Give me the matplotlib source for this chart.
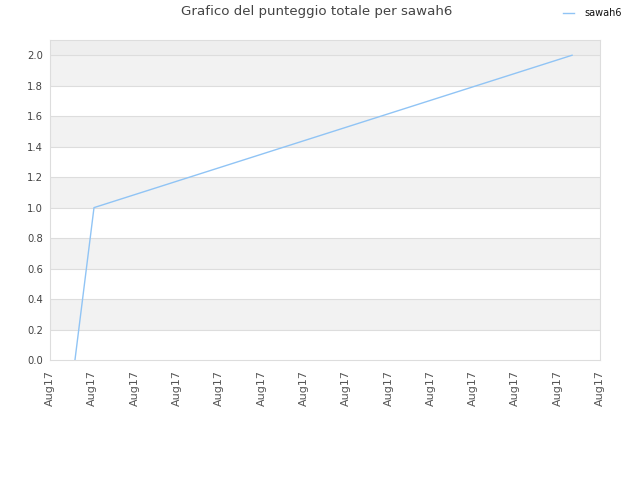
import matplotlib
matplotlib.use("Agg")
import matplotlib.pyplot as plt

x_vals = [0.59, 1.04, 12.34]
y_vals = [0.0, 1.0, 2.0]
tick_labels = ["Aug17"] * 14
series_name = "sawah6"

fig = plt.figure(figsize=(6.4, 4.8), dpi=100)
ax = fig.add_axes([50/640, 1-360/480, 550/640, 320/480])

ax.set_xlim(0, 13)
ax.set_ylim(0, 2.1)

# bands
edges = [0.0, 0.2, 0.4, 0.6, 0.8, 1.0, 1.2, 1.4, 1.6, 1.8, 2.0, 2.1]
for i in range(11):
    lo, hi = edges[i], edges[i + 1]
    if i == 10:
        c = "#eeeeee"
    elif i % 2 == 1:
        c = "#f2f2f2"
    else:
        c = "#ffffff"
    ax.axhspan(lo, hi, facecolor=c, zorder=0, lw=0)
for v in edges[1:-1]:
    ax.axhline(v, color="#dddddd", lw=0.8, zorder=1)

ax.plot(x_vals, y_vals, color="#90c4f5", lw=1.0, label=series_name, zorder=3)

ax.set_yticks(edges[:-1])
ax.set_yticklabels([f"{v:.1f}" for v in edges[:-1]], fontsize=7.2, color="#444444")
ax.set_xticks(range(14))
ax.set_xticklabels(tick_labels, rotation=90, fontsize=8.0, color="#555555")
ax.tick_params(axis="y", length=0, pad=5)
ax.tick_params(axis="x", length=0, pad=7)
for s in ax.spines.values():
    s.set_color("#dddddd")
    s.set_linewidth(0.8)

fig.text(317/640, 1-12/480, "Grafico del punteggio totale per sawah6", ha="center", va="center",
         fontsize=9.6, color="#444444")
leg = fig.legend(loc="center left", bbox_to_anchor=(563/640, 1-13/480), frameon=False, fontsize=7.0,
                 handlelength=1.1, handletextpad=1.1, borderaxespad=0, borderpad=0)
for t in leg.get_texts():
    t.set_color("#111111")

fig.savefig("out.png", dpi=100)
